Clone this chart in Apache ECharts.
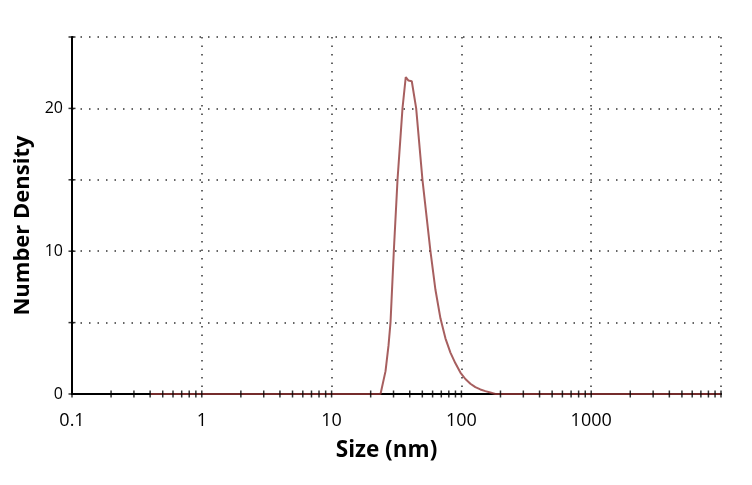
<!DOCTYPE html>
<html>
<head>
<meta charset="utf-8">
<script src="https://cdn.jsdelivr.net/npm/echarts@6/dist/echarts.min.js"></script>
<style>
html,body{margin:0;padding:0;background:#fff;}
#main{width:752px;height:485px;}
</style>
</head>
<body>
<div id="main"></div>
<script>
// Data
const sizes   = [0.4, 23.82, 26.03, 27.45, 28.43, 30.15, 32.20, 35.17, 37.27, 39.1, 41.47, 44.83, 50.12, 57.74, 63.1, 68.95, 75.33, 82.30, 89.92, 98.24, 107.3, 117.3, 128.1, 140.0, 152.9, 167.1, 182.6, 10000];
const density = [0,   0,     1.6,   3.4,   5,     10,    15,    20,    22.2,  21.95, 21.9, 20,    15,    10,    7.3,  5.3,   3.9,   2.9,   2.15,  1.5,   1.05,  0.72,  0.48,  0.32,  0.2,   0.1,   0,     0];

const xMin = 0.1, xMax = 10000;
const yMin = 0, yMax = 25, yStep = 5;
const xLabelDecades = [0.1, 1, 10, 100, 1000];
const decades = [0.1, 1, 10, 100, 1000];
const multipliers = [1, 2, 3, 4, 5, 6, 7, 8, 9];
const yTickValues = [0, 5, 10, 15, 20, 25];
const yLabelValues = [0, 10, 20];

const xTickValues = [];
decades.forEach(d => multipliers.forEach(m => xTickValues.push(+(d * m).toPrecision(6))));
xTickValues.push(xMax);

const chart = echarts.init(document.getElementById('main'), null, {renderer: 'canvas'});
const font = '"Open Sans", "Noto Sans", "Liberation Sans", sans-serif';

chart.setOption({
  backgroundColor: '#ffffff',
  animation: false,
  grid: {left: 72, right: 31, top: 37, bottom: 91, containLabel: false},
  xAxis: {
    type: 'log', logBase: 10, min: xMin, max: xMax,
    name: 'Size (nm)', nameLocation: 'middle', nameGap: 45,
    nameTextStyle: {fontFamily: font, fontWeight: 'bold', fontSize: 22.5, color: '#000', padding: [0, 20, 0, 0]},
    axisLine: {show: true, onZero: false, lineStyle: {color: '#000', width: 2}},
    axisTick: {show: false},
    axisLabel: {
      margin: 18, fontFamily: font, fontSize: 18, color: '#000',
      formatter: v => (xLabelDecades.some(d => Math.abs(d - v) / d < 1e-6) ? String(v) : '')
    },
    splitLine: {show: true, showMinLine: false, lineStyle: {color: '#333', width: 1.5, type: [1.5, 7]}}
  },
  yAxis: {
    type: 'value', min: yMin, max: yMax, interval: yStep,
    name: 'Number Density', nameLocation: 'middle', nameGap: 24,
    nameTextStyle: {fontFamily: font, fontWeight: 'bold', fontSize: 22, color: '#000', padding: [0, 20, 0, 0]},
    axisLine: {show: true, lineStyle: {color: '#000', width: 2}},
    axisTick: {show: false},
    axisLabel: {
      margin: 9, fontFamily: font, fontSize: 16, color: '#000',
      formatter: v => (yLabelValues.indexOf(v) >= 0 ? String(v) : '')
    },
    splitLine: {show: true, showMinLine: false, lineStyle: {color: '#333', width: 1.5, type: [1.5, 7]}}
  },
  series: [
    {
      type: 'line', data: sizes.map((s, i) => [s, density[i]]),
      showSymbol: false, symbol: 'none', z: 3,
      lineStyle: {color: 'rgba(145,55,55,0.8)', width: 2}
    },
    {
      type: 'scatter', data: xTickValues.map(v => [v, 0]), clip: false, z: 5,
      symbol: 'rect', symbolSize: [1.5, 7], itemStyle: {color: '#000'}, silent: true
    },
    {
      type: 'scatter', data: yTickValues.map(v => [xMin, v]), clip: false, z: 5,
      symbol: 'rect', symbolSize: [7, 1.5], itemStyle: {color: '#000'}, silent: true
    }
  ]
});
</script>
</body>
</html>
